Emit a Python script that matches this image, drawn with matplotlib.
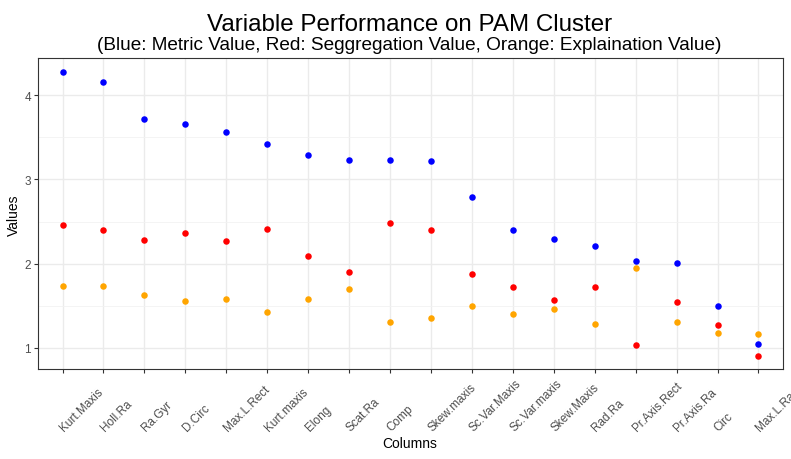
import matplotlib
matplotlib.use('Agg')
import matplotlib.pyplot as plt
from matplotlib.transforms import offset_copy

plt.rcParams['font.family'] = ['Liberation Sans', 'DejaVu Sans']

COLUMNS = ['Kurt.Maxis', 'Holl.Ra', 'Ra.Gyr', 'D.Circ', 'Max.L.Rect', 'Kurt.maxis',
           'Elong', 'Scat.Ra', 'Comp', 'Skew.maxis', 'Sc.Var.Maxis', 'Sc.Var.maxis',
           'Skew.Maxis', 'Rad.Ra', 'Pr.Axis.Rect', 'Pr.Axis.Ra', 'Circ', 'Max.L.Ra']

METRIC_VALUES = [4.27, 4.16, 3.72, 3.66, 3.56, 3.42, 3.29, 3.23, 3.23, 3.22,
                 2.79, 2.40, 2.29, 2.21, 2.03, 2.01, 1.50, 1.05]
SEGGREGATION_VALUES = [2.46, 2.40, 2.28, 2.36, 2.27, 2.41, 2.09, 1.90, 2.48, 2.40,
                       1.88, 1.72, 1.57, 1.72, 1.04, 1.54, 1.27, 0.91]
EXPLAINATION_VALUES = [1.73, 1.73, 1.63, 1.56, 1.58, 1.43, 1.58, 1.70, 1.31, 1.35,
                       1.50, 1.40, 1.46, 1.28, 1.95, 1.31, 1.18, 1.16]

SERIES = [
    (METRIC_VALUES, '#0000FF'),
    (SEGGREGATION_VALUES, '#FF0000'),
    (EXPLAINATION_VALUES, '#FFA500'),
]

W, H = 791, 460
fig = plt.figure(figsize=(W / 100, H / 100), dpi=100)
ax = fig.add_axes([38 / W, (H - 370) / H, 745 / W, 311 / H])

x = list(range(len(COLUMNS)))
for values, color in SERIES:
    ax.scatter(x, values, s=22, color=color, linewidths=0, zorder=3)

ax.set_xlim(-0.6, len(COLUMNS) - 0.4)
ax.set_ylim(0.75, 4.44)
ax.set_xticks(x)
ax.set_xticklabels([])
ax.set_yticks([1, 2, 3, 4])
ax.set_yticks([1.5, 2.5, 3.5], minor=True)
ax.set_yticklabels(['1', '2', '3', '4'], fontsize=8.5, color='#4D4D4D')

ax.grid(True, which='major', color='#EBEBEB', linewidth=1.0, zorder=0)
ax.grid(True, which='minor', axis='y', color='#F2F2F2', linewidth=0.6, zorder=0)
ax.set_axisbelow(True)
ax.tick_params(axis='both', which='major', length=3, width=0.8, color='#333333', pad=2)
ax.tick_params(axis='y', which='minor', length=0)
for spine in ax.spines.values():
    spine.set_color('#333333')
    spine.set_linewidth(0.8)

# rotated column labels, bottom-left corner anchored under each tick
label_trans = offset_copy(ax.get_xaxis_transform(), fig=fig, x=-5, y=-64, units='dots')
for xi, name in zip(x, COLUMNS):
    ax.text(xi, 0, name, transform=label_trans, rotation=45, ha='left', va='bottom',
            fontsize=8.5, color='#4D4D4D', clip_on=False)

fig.text(410 / W, 1 - 444 / H, 'Columns', ha='center', va='center', fontsize=10)
fig.text(14 / W, 1 - 215 / H, 'Values', ha='center', va='center', rotation=90, fontsize=10)
fig.text(410 / W, 1 - 31 / H, 'Variable Performance on PAM Cluster',
         ha='center', va='baseline', fontsize=17.4)
fig.text(409 / W, 1 - 50 / H,
         '(Blue: Metric Value, Red: Seggregation Value, Orange: Explaination Value)',
         ha='center', va='baseline', fontsize=13.7)

fig.savefig('out.png', dpi=100)
